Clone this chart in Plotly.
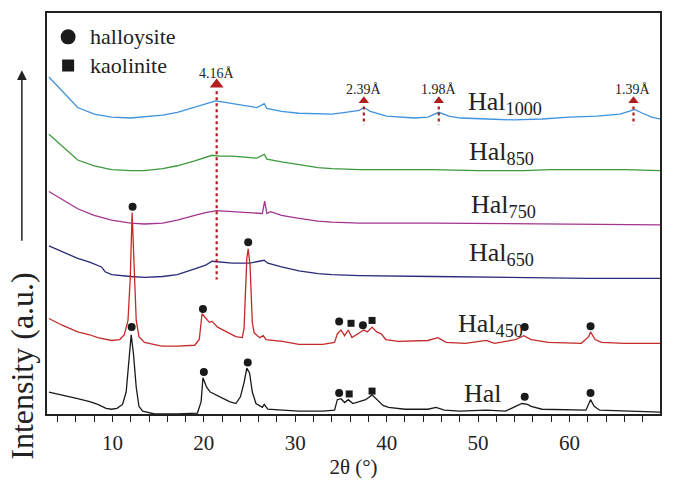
import plotly.graph_objects as go

FONT = "Liberation Serif"

# ---------------- data (2theta in degrees, intensity in a.u.) ----------------
hal1000_x = [3.05, 4.5, 6.2, 8.0, 9.9, 12.0, 13.5, 15.5, 17.1, 18.5, 19.5, 20.5, 21.3, 22.0, 23.1,
             24.5, 25.8, 26.6, 26.9, 28.5, 30.4, 32.5, 34.0, 35.5, 37.0, 37.5, 38.2, 40.0, 43.0,
             44.5, 45.7, 46.8, 48.1, 51.0, 53.9, 57.0, 60.0, 63.0, 65.5, 66.5, 67.1, 68.0, 69.0, 69.9]
hal1000_y = [353, 338, 321, 314, 311, 310, 311, 313, 316, 320, 323, 326, 328, 327, 325,
             323, 321, 325, 320, 317, 315, 314, 314, 316, 318, 321, 317, 312, 310,
             311, 316, 312, 310, 309, 308, 309, 311, 312, 314, 317, 319, 315, 311, 309]

hal850_x = [3.05, 4.5, 6.2, 8.0, 9.9, 12.0, 13.5, 15.5, 17.1, 19.0, 20.2, 20.9, 21.7, 23.1, 24.5,
            25.8, 26.6, 26.9, 28.5, 30.4, 32.5, 34.0, 37.0, 40.0, 45.0, 50.0, 55.0, 58.0, 62.0, 66.0, 69.9]
hal850_y = [293, 281, 266, 260, 256, 255, 255, 257, 260, 265, 269, 271, 270, 270, 269,
            268, 272, 267, 264, 261, 258, 257, 256, 256, 256, 255, 255, 256, 256, 256, 255]

hal750_x = [3.05, 4.5, 6.2, 8.0, 9.9, 12.0, 13.5, 15.5, 17.1, 19.0, 20.2, 21.4, 23.0, 25.0, 26.4,
            26.65, 26.9, 27.3, 28.5, 30.4, 32.5, 34.0, 37.0, 45.0, 55.0, 62.0, 69.9]
hal750_y = [233, 225, 215, 208, 203, 200, 199, 200, 203, 208, 211, 213, 212, 211, 210,
            223, 210, 212, 208, 205, 202, 201, 200, 200, 199, 199, 198]

hal650_x = [3.05, 4.5, 6.2, 7.5, 8.4, 8.8, 9.2, 9.9, 12.0, 13.5, 15.5, 17.1, 19.0, 20.2, 20.9,
            21.7, 23.1, 25.0, 26.6, 27.0, 28.5, 30.4, 32.5, 34.0, 37.0, 45.0, 55.0, 62.0, 69.9]
hal650_y = [176, 170, 163, 159, 156, 154, 149, 146, 144, 143, 144, 146, 152, 156, 160,
            159, 158, 158, 161, 158, 154, 150, 147, 146, 145, 144, 143, 142, 142]

hal450_x = [3.05, 4.5, 6.2, 7.5, 8.4, 9.0, 9.9, 10.8, 11.3, 11.7, 11.95, 12.15, 12.35, 12.6, 12.9,
            13.5, 15.4, 17.1, 19.0, 19.5, 19.8, 20.25, 20.6, 20.9, 21.5, 22.5, 23.5, 24.2, 24.4,
            24.7, 24.85, 25.05, 25.3, 25.5, 26.1, 26.5, 26.8, 28.6, 30.4, 33.0, 34.3, 34.6, 35.0,
            35.4, 35.8, 36.2, 36.9, 37.5, 37.9, 38.4, 38.9, 39.4, 39.9, 41.3, 44.5, 45.6, 46.5,
            48.6, 50.9, 51.8, 54.1, 55.0, 55.8, 57.7, 61.3, 62.1, 62.3, 62.8, 63.5, 66.0, 69.9]
hal450_y = [100, 93, 86, 83, 80, 79, 77, 78, 83, 98, 143, 211, 163, 98, 81,
            75, 71, 71, 72, 78, 105, 100, 96, 97, 91, 86, 81, 80, 90,
            163, 173, 156, 96, 85, 80, 82, 78, 76, 73, 73, 75, 84, 88,
            82, 88, 80, 84, 88, 86, 91, 86, 84, 78, 76, 77, 80, 75,
            74, 77, 74, 78, 82, 78, 75, 74, 81, 86, 78, 75, 74, 74]

hal_x = [3.05, 4.5, 6.2, 7.5, 8.4, 9.3, 9.9, 10.5, 11.1, 11.5, 11.8, 12.05, 12.3, 12.6, 12.9,
         13.3, 14.6, 17.1, 19.3, 19.7, 19.9, 20.3, 20.7, 21.8, 22.8, 23.5, 24.0, 24.4, 24.7,
         25.0, 25.3, 25.7, 26.4, 26.6, 27.0, 28.6, 30.4, 33.0, 34.3, 34.6, 35.0, 35.4, 35.8,
         36.3, 37.0, 37.7, 38.4, 39.1, 39.6, 40.2, 42.0, 44.5, 45.4, 46.3, 48.0, 50.9, 53.0,
         54.1, 54.8, 55.4, 55.8, 57.0, 60.0, 61.8, 62.3, 62.7, 63.3, 66.0, 69.9]
hal_y = [23, 20, 16, 13, 10, 6, 5, 6, 10, 23, 53, 83, 63, 28, 8,
         3, 0, 0, 1, 13, 38, 28, 23, 18, 13, 11, 18, 33, 48,
         43, 23, 11, 7, 10, 5, 4, 3, 3, 4, 15, 16, 12, 15,
         11, 13, 15, 20, 13, 9, 7, 5, 5, 7, 4, 3, 4, 3,
         8, 11, 10, 8, 5, 4, 4, 15, 8, 4, 3, 2]

# phase markers
hal450_circ_x = [12.2, 19.9, 24.85, 34.8, 37.4, 55.1, 62.3]
hal450_circ_y = [217, 110, 180, 97, 93, 91, 92]
hal450_sq_x = [36.1, 38.4]
hal450_sq_y = [95, 98]
hal_circ_x = [12.1, 20.0, 24.8, 34.8, 55.1, 62.3]
hal_circ_y = [91, 44, 54, 22, 18, 22]
hal_sq_x = [35.9, 38.4]
hal_sq_y = [21, 24]

# d-spacing annotations of Hal1000
d_labels = ["4.16Å", "2.39Å", "1.98Å", "1.39Å"]
d_pos = [21.4, 37.5, 45.7, 67.0]
d_tri_y = [345, 328, 328, 328]
d_line_top = [338, 322, 322, 322]
d_line_bot = [141, 303, 303, 303]
d_text_y = [357, 340, 340, 340]

series = [
    ("Hal", "1000", hal1000_x, hal1000_y, "#3f93de", 48.65, 326),
    ("Hal", "850", hal850_x, hal850_y, "#3c9a3c", 48.75, 273),
    ("Hal", "750", hal750_x, hal750_y, "#a3348f", 49.0, 218),
    ("Hal", "650", hal650_x, hal650_y, "#2b2a7a", 48.75, 168),
    ("Hal", "450", hal450_x, hal450_y, "#c42a2a", 47.6, 93),
    ("Hal", "", hal_x, hal_y, "#1a1a1a", 48.2, 21),
]

RED = "#b01e1e"

fig = go.Figure()
for name, sub, xs, ys, col, lx, ly in series:
    fig.add_trace(go.Scatter(x=xs, y=ys, mode="lines", line=dict(color=col, width=1.3),
                             hoverinfo="skip", showlegend=False))
    txt = name + (f"<sub>{sub}</sub>" if sub else "")
    fig.add_annotation(x=lx, y=ly, text=txt, showarrow=False, xanchor="left", yanchor="middle",
                       font=dict(family=FONT, size=26, color="#222"))

# phase markers
fig.add_trace(go.Scatter(x=hal450_circ_x + hal_circ_x, y=hal450_circ_y + hal_circ_y, mode="markers",
                         marker=dict(symbol="circle", size=8, color="#1a1a1a"), showlegend=False))
fig.add_trace(go.Scatter(x=hal450_sq_x + hal_sq_x, y=hal450_sq_y + hal_sq_y, mode="markers",
                         marker=dict(symbol="square", size=7, color="#1a1a1a"), showlegend=False))

# d-spacing arrows and dotted guides
for lab, xp, ty, top, bot, tyy in zip(d_labels, d_pos, d_tri_y, d_line_top, d_line_bot, d_text_y):
    fig.add_trace(go.Scatter(x=[xp, xp], y=[top, bot], mode="lines",
                             line=dict(color=RED, width=2.2, dash="dot"), showlegend=False))
    fig.add_trace(go.Scatter(x=[xp], y=[ty], mode="markers",
                             marker=dict(symbol="triangle-up", size=12 if lab == "4.16Å" else 9, color=RED),
                             showlegend=False))
    fig.add_annotation(x=xp, y=tyy, text=lab, showarrow=False,
                       font=dict(family=FONT, size=14, color="#222"))

# legend (drawn in plot)
leg_names = ["halloysite", "kaolinite"]
leg_symbols = ["circle", "square"]
leg_sizes = [15, 12]
leg_y = [395, 365]
for nm, sy, sz, yy in zip(leg_names, leg_symbols, leg_sizes, leg_y):
    fig.add_trace(go.Scatter(x=[5.15], y=[yy], mode="markers",
                             marker=dict(symbol=sy, size=sz, color="#1a1a1a"), showlegend=False))
    fig.add_annotation(x=7.3, y=yy, text=nm, showarrow=False, xanchor="left", yanchor="middle",
                       font=dict(family=FONT, size=22, color="#222"))

# y-axis title with arrow
fig.add_annotation(xref="paper", yref="paper", x=-0.041, y=0.857, ax=0, ay=172, text="",
                   showarrow=True, arrowhead=2, arrowsize=1.3, arrowwidth=1.5, arrowcolor="#222")
fig.add_annotation(xref="paper", yref="paper", x=-0.041, y=0.12, text="Intensity (a.u.)",
                   textangle=-90, showarrow=False, xanchor="center", yanchor="middle",
                   font=dict(family=FONT, size=32, color="#222"))

fig.update_layout(
    width=673, height=483,
    margin=dict(l=47, r=11, t=13, b=50),
    plot_bgcolor="white", paper_bgcolor="white",
    font=dict(family=FONT, color="#222"),
    xaxis=dict(range=[2.84, 69.9], tickmode="array", tickvals=[10, 20, 30, 40, 50, 60, 70],
               ticks="outside", ticklen=6, tickwidth=1.2, tickcolor="#222", ticklabelstandoff=3,
               minor=dict(tickmode="array", tickvals=[4, 6, 8, 12, 14, 16, 18, 22, 24, 26, 28, 32, 34, 36, 38,
                                                      42, 44, 46, 48, 52, 54, 56, 58, 62, 64, 66, 68],
                          ticks="outside", ticklen=6, tickwidth=1.2, tickcolor="#222"),
               showline=True, linecolor="#222", linewidth=1.8, mirror=True,
               showgrid=False, zeroline=False,
               tickfont=dict(family=FONT, size=21, color="#222"),
               title=dict(text="2θ (°)", font=dict(family=FONT, size=21, color="#222"), standoff=2)),
    yaxis=dict(range=[0, 420], showticklabels=False, ticks="", showgrid=False, zeroline=False,
               showline=True, linecolor="#222", linewidth=1.8, mirror=True),
)

fig.write_html("out.html")
